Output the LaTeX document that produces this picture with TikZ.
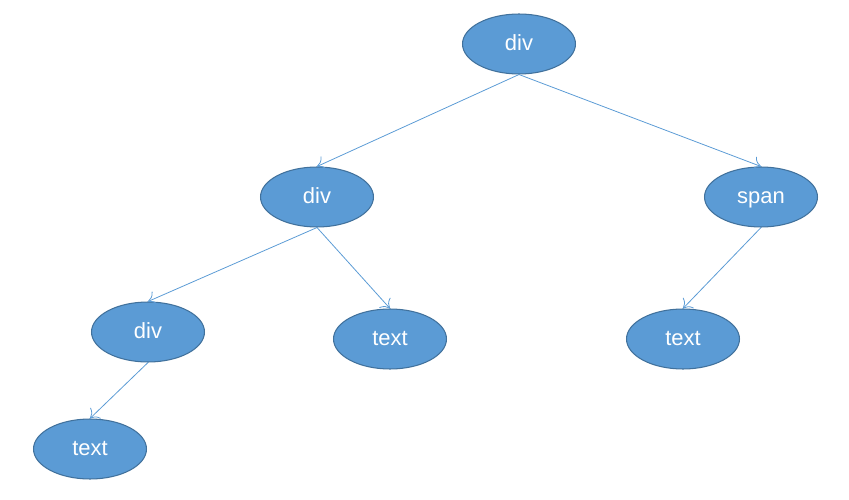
\documentclass[tikz,border=0pt]{standalone}
\usepackage{fontspec}
\setmainfont{Liberation Sans}
\usepackage{xcolor}
\definecolor{nodefill}{HTML}{5B9BD5}
\definecolor{nodeline}{HTML}{41719C}
\usetikzlibrary{positioning}
\usetikzlibrary{shapes.geometric}
\usetikzlibrary{arrows.meta}
\begin{document}
\begin{tikzpicture}[x = 0.02cm, y = -0.02cm, semithick, tag/.style = {ellipse, fill = nodefill, draw = nodeline, text = white, minimum width = 2.26cm, minimum height = 1.2cm, inner sep = 0pt, text height = 9pt, text depth = 1.4pt, font = \fontsize{12.5}{15}\selectfont}, link/.style = {-{To[length = 1.6mm, width = 3mm]}, draw = nodefill, line width = 0.45pt}]
\useasboundingbox (0,0) rectangle (849,500);
\node[tag] (R) at (519,44) {div};
\node[tag] (D1) at (317,197) {div};
\node[tag] (S) at (761,197) {span};
\node[tag] (D2) at (148,332) {div};
\node[tag] (T1) at (390,339) {text};
\node[tag] (T2) at (683,339) {text};
\node[tag] (T3) at (90,449) {text};
\path (R.south) edge[link] (D1.north)
(R.south) edge[link] (S.north)
(D1.south) edge[link] (D2.north)
(D1.south) edge[link] (T1.north)
(S.south) edge[link] (T2.north)
(D2.south) edge[link] (T3.north);
\end{tikzpicture}
\end{document}
